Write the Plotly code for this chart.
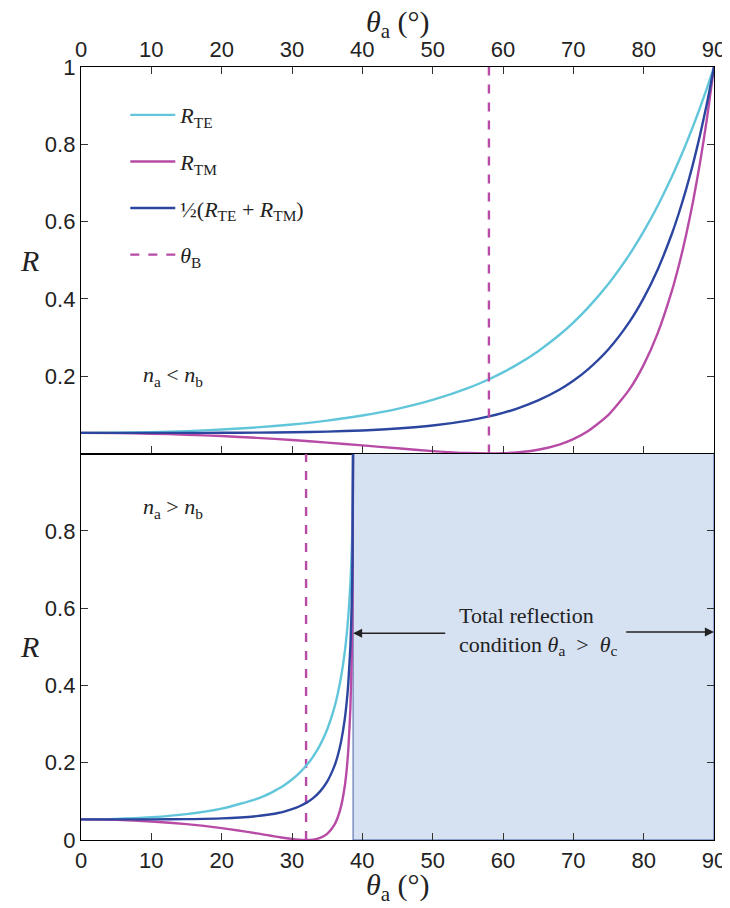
import plotly.graph_objects as go

# ---------------- data ----------------
# Top panel: n_a < n_b
theta_top = [0, 5, 10, 15, 20, 25, 30, 35, 40, 45, 50, 55, 58, 60, 62, 65, 68, 70,
             72, 75, 78, 80, 82, 84, 85, 86, 87, 88, 89, 90]
R_TE_top = [0.0533, 0.0538, 0.0553, 0.0580, 0.0620, 0.0676, 0.0751, 0.0851, 0.0982,
            0.1155, 0.1385, 0.1690, 0.1921, 0.2099, 0.2299, 0.2648, 0.3065, 0.3389,
            0.3754, 0.4391, 0.5154, 0.5745, 0.6410, 0.7158, 0.7566, 0.7999, 0.8457,
            0.8943, 0.9456, 1.0]
R_TM_top = [0.0533, 0.0528, 0.0512, 0.0487, 0.0451, 0.0405, 0.0348, 0.0282, 0.0210,
            0.0134, 0.0062, 0.0011, 0.0000, 0.0006, 0.0027, 0.0097, 0.0232, 0.0373,
            0.0569, 0.1000, 0.1665, 0.2292, 0.3116, 0.4201, 0.4865, 0.5627, 0.6503,
            0.7509, 0.8666, 1.0]
R_avg_top = [0.0533, 0.0533, 0.0533, 0.0534, 0.0536, 0.0541, 0.0550, 0.0567, 0.0596,
             0.0645, 0.0723, 0.0851, 0.0961, 0.1053, 0.1163, 0.1373, 0.1649, 0.1881,
             0.2162, 0.2696, 0.3410, 0.4019, 0.4763, 0.5679, 0.6216, 0.6813, 0.7480,
             0.8226, 0.9061, 1.0]

# Bottom panel: n_a > n_b
theta_bot = [0, 5, 10, 15, 20, 25, 26, 27, 28, 29, 30, 31, 32, 33, 34, 35, 36, 36.5,
             37, 37.5, 37.8, 38, 38.3, 38.5, 38.6, 38.68]
R_TE_bot = [0.0533, 0.0546, 0.0588, 0.0669, 0.0811, 0.1064, 0.1137, 0.1221, 0.1318,
            0.1432, 0.1566, 0.1725, 0.1919, 0.2159, 0.2462, 0.2860, 0.3411, 0.3778,
            0.4242, 0.4861, 0.5356, 0.5771, 0.6621, 0.7520, 0.8257, 1.0]
R_TM_bot = [0.0533, 0.0520, 0.0480, 0.0410, 0.0307, 0.0171, 0.0140, 0.0110, 0.0080,
            0.0051, 0.0027, 0.0008, 0.0000, 0.0011, 0.0055, 0.0159, 0.0384, 0.0583,
            0.0889, 0.1391, 0.1868, 0.2322, 0.3406, 0.4787, 0.6111, 1.0]
R_avg_bot = [0.0533, 0.0533, 0.0534, 0.0540, 0.0559, 0.0617, 0.0639, 0.0666, 0.0699,
             0.0742, 0.0796, 0.0867, 0.0960, 0.1085, 0.1259, 0.1510, 0.1898, 0.2180,
             0.2565, 0.3126, 0.3612, 0.4046, 0.5013, 0.6153, 0.7184, 1.0]

theta_B_top = 58.0
theta_B_bot = 32.0
theta_c = 38.68

x_ticks = [0, 10, 20, 30, 40, 50, 60, 70, 80, 90]
y_ticks_top = [0.2, 0.4, 0.6, 0.8, 1.0]
y_ticks_top_text = ["0.2", "0.4", "0.6", "0.8", "1"]
y_ticks_bot = [0, 0.2, 0.4, 0.6, 0.8]
y_ticks_bot_text = ["0", "0.2", "0.4", "0.6", "0.8"]

# ---------------- styles ----------------
C_TE = "#62c6da"
C_TM = "#b74ba6"
C_AVG = "#2c46a0"
C_SHADE = "#d6e1f2"
SERIF = "Liberation Serif"
SANS = "Liberation Sans"
LW = 2.4


def line(color, dash="solid"):
    return dict(color=color, width=LW, dash=dash, shape="spline", smoothing=0.6)


fig = go.Figure()

# top panel traces
fig.add_trace(go.Scatter(x=theta_top, y=R_TE_top, mode="lines", xaxis="x", yaxis="y",
                         line=line(C_TE), name="<i>R</i><sub>TE</sub>", legendgroup="a"))
fig.add_trace(go.Scatter(x=theta_top, y=R_TM_top, mode="lines", xaxis="x", yaxis="y",
                         line=line(C_TM), name="<i>R</i><sub>TM</sub>", legendgroup="b"))
fig.add_trace(go.Scatter(x=theta_top, y=R_avg_top, mode="lines", xaxis="x", yaxis="y",
                         line=line(C_AVG),
                         name="½(<i>R</i><sub>TE</sub> + <i>R</i><sub>TM</sub>)",
                         legendgroup="c"))
fig.add_trace(go.Scatter(x=[theta_B_top, theta_B_top], y=[0, 1], mode="lines",
                         xaxis="x", yaxis="y",
                         line=dict(color=C_TM, width=LW, dash="dash"),
                         name="<i>θ</i><sub>B</sub>", legendgroup="d"))

# bottom panel traces
fig.add_trace(go.Scatter(x=[theta_B_bot, theta_B_bot], y=[0, 1], mode="lines",
                         xaxis="x2", yaxis="y2",
                         line=dict(color=C_TM, width=LW, dash="dash"), showlegend=False))
fig.add_trace(go.Scatter(x=theta_bot, y=R_TE_bot, mode="lines", xaxis="x2", yaxis="y2",
                         line=line(C_TE), showlegend=False))
fig.add_trace(go.Scatter(x=theta_bot, y=R_TM_bot, mode="lines", xaxis="x2", yaxis="y2",
                         line=line(C_TM), showlegend=False))
fig.add_trace(go.Scatter(x=theta_bot, y=R_avg_bot, mode="lines", xaxis="x2", yaxis="y2",
                         line=line(C_AVG), showlegend=False))

axis_common = dict(showgrid=False, zeroline=False, linecolor="black", linewidth=1.3,
                   ticks="inside", ticklen=7, tickcolor="#333", tickwidth=1,
                   automargin=False,
                   tickfont=dict(family=SANS, size=22, color="#222"))

fig.update_layout(
    width=722, height=900,
    margin=dict(l=73, r=16, t=59, b=68, autoexpand=False),
    paper_bgcolor="white", plot_bgcolor="white",
    xaxis=dict(domain=[0, 1], range=[0, 90], anchor="y", side="top",
               tickvals=x_ticks, mirror="ticks", **axis_common),
    yaxis=dict(domain=[0.5, 1], range=[0, 1], anchor="x",
               tickvals=y_ticks_top, ticktext=y_ticks_top_text, mirror="ticks",
               **axis_common),
    xaxis2=dict(domain=[0, 1], range=[0, 90], anchor="y2", side="bottom",
                tickvals=x_ticks, mirror=True, **axis_common),
    yaxis2=dict(domain=[0, 0.5], range=[0, 1], anchor="x2",
                tickvals=y_ticks_bot, ticktext=y_ticks_bot_text, mirror="ticks",
                **axis_common),
    showlegend=True,
    legend=dict(x=0.07, y=0.965, xanchor="left", yanchor="top",
                bgcolor="rgba(0,0,0,0)", tracegroupgap=15,
                font=dict(family=SERIF, size=22, color="#222"),
                itemwidth=45),
)

# shaded total reflection region
fig.add_shape(type="rect", xref="x2", yref="y2", x0=theta_c, x1=90, y0=0, y1=1,
              fillcolor=C_SHADE, line=dict(color="#4a60a8", width=1), layer="below")

# annotations
fig.add_annotation(xref="x2", yref="y2", x=theta_c, y=0.535, ax=52.0, ay=0.535,
                   axref="x2", ayref="y2", text="", showarrow=True, arrowhead=2,
                   arrowsize=1.3, arrowwidth=1.4, arrowcolor="#222")
fig.add_annotation(xref="x2", yref="y2", x=90, y=0.538, ax=77.3, ay=0.538,
                   axref="x2", ayref="y2", text="", showarrow=True, arrowhead=2,
                   arrowsize=1.3, arrowwidth=1.4, arrowcolor="#222")
fig.add_annotation(xref="x2", yref="y2", x=65.0, y=0.54, showarrow=False,
                   xanchor="center", yanchor="middle",
                   text="Total reflection<br>condition <i>θ</i><sub>a</sub>&nbsp;&nbsp;>&nbsp;&nbsp;<i>θ</i><sub>c</sub>",
                   font=dict(family=SERIF, size=22, color="#222"), align="left")

fig.add_annotation(xref="x", yref="y", x=8.5, y=0.20, xanchor="left", yanchor="middle",
                   showarrow=False,
                   text="<i>n</i><sub>a</sub> < <i>n</i><sub>b</sub>",
                   font=dict(family=SERIF, size=22, color="#222"))
fig.add_annotation(xref="x2", yref="y2", x=8.5, y=0.86, xanchor="left", yanchor="middle",
                   showarrow=False,
                   text="<i>n</i><sub>a</sub> > <i>n</i><sub>b</sub>",
                   font=dict(family=SERIF, size=22, color="#222"))

for ytxt in (0.75, 0.25):
    fig.add_annotation(xref="paper", yref="paper", x=-0.082, y=ytxt, xanchor="center",
                       yanchor="middle", showarrow=False, text="<i>R</i>",
                       font=dict(family=SERIF, size=30, color="#222"))

fig.add_annotation(xref="paper", yref="paper", x=0.5, y=1.055, xanchor="center",
                   yanchor="middle", showarrow=False,
                   text="<i>θ</i><sub>a</sub>&nbsp;(°)",
                   font=dict(family=SERIF, size=30, color="#222"))
fig.add_annotation(xref="paper", yref="paper", x=0.5, y=-0.061, xanchor="center",
                   yanchor="middle", showarrow=False,
                   text="<i>θ</i><sub>a</sub>&nbsp;(°)",
                   font=dict(family=SERIF, size=30, color="#222"))

fig.write_html("out.html")
